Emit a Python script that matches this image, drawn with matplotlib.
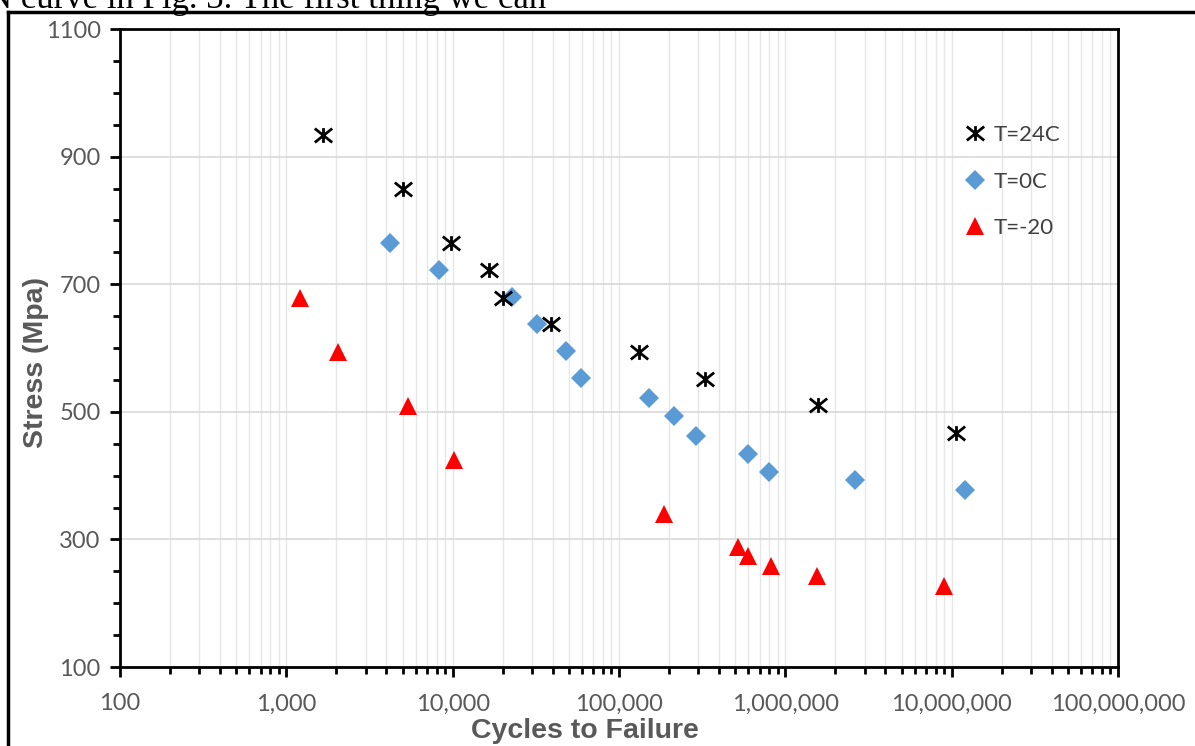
import numpy as np
import matplotlib
matplotlib.use('Agg')
import matplotlib.pyplot as plt
from matplotlib.path import Path
from matplotlib.lines import Line2D
from matplotlib.ticker import FuncFormatter, LogLocator, MultipleLocator

# --- data ---
n_24 = [1660, 5040, 9770, 16600, 20100, 39100, 132000, 330000, 1574000, 10640000]
s_24 = [934, 849, 765, 722, 678, 638, 594, 551, 511, 467]

n_0 = [4210, 8280, 22760, 32200, 48100, 59200, 151700, 214000, 291000,
       597000, 800000, 2630000, 12050000]
s_0 = [765, 722, 680, 638, 595, 553, 522, 493, 462, 434, 406, 393, 377]

n_m20 = [1208, 2046, 5400, 10190, 186700, 520000, 597000, 822000, 1553000, 9020000]
s_m20 = [678, 594, 509, 424, 340, 288, 274, 258, 243, 227]

labels = ['T=24C', 'T=0C', 'T=-20']

# excel style star marker: X plus vertical bar
star = Path([(0, -0.85), (0, 0.85), (-1, -0.8), (1, 0.8), (-1, 0.8), (1, -0.8)],
            [Path.MOVETO, Path.LINETO, Path.MOVETO, Path.LINETO, Path.MOVETO, Path.LINETO])

fig = plt.figure(figsize=(11.95, 7.46), dpi=100)
ax = fig.add_axes([120/1195, 1 - 667/746, 998/1195, 638/746])

ax.plot(n_24, s_24, linestyle='none', marker=star, markersize=12.5, markerfacecolor='none',
        markeredgecolor='black', markeredgewidth=2, label=labels[0], zorder=4)
ax.plot(n_0, s_0, linestyle='none', marker='D', markersize=10, color='#5B9BD5',
        markeredgewidth=0, label=labels[1], zorder=3)
ax.plot(n_m20, s_m20, linestyle='none', marker='^', markersize=13, color='#FF0000',
        markeredgewidth=0, label=labels[2], zorder=3)

ax.set_xscale('log')
ax.set_xlim(100, 1e8)
ax.set_ylim(100, 1100)

ax.yaxis.set_major_locator(MultipleLocator(200, offset=100))
ax.yaxis.set_minor_locator(MultipleLocator(50))
ax.xaxis.set_major_locator(LogLocator(base=10, numticks=10))
ax.xaxis.set_minor_locator(LogLocator(base=10, subs=np.arange(2, 10), numticks=10))
ax.xaxis.set_major_formatter(FuncFormatter(lambda v, p: f'{int(round(v)):,}'))

ax.grid(True, which='both', axis='x', color='#E6E6E6', linewidth=1)
ax.grid(True, which='major', axis='y', color='#D9D9D9', linewidth=1.2)
ax.set_axisbelow(True)

for sp in ax.spines.values():
    sp.set_linewidth(2)
    sp.set_color('black')

ax.tick_params(which='major', direction='out', length=7, width=2, colors='black',
               labelcolor='#595959', labelsize=17, pad=7)
ax.tick_params(which='minor', direction='out', length=5, width=2, colors='black')
ax.tick_params(axis='x', which='major', pad=12)
for t in ax.get_xticklabels() + ax.get_yticklabels():
    t.set_family('Lato')

ax.set_xlabel('Cycles to Failure', fontsize=20.5, fontweight='bold', color='#595959',
              family='Liberation Sans')
ax.set_ylabel('Stress (Mpa)', fontsize=20.5, fontweight='bold', color='#595959',
              family='Liberation Sans')
ax.xaxis.set_label_coords(0.466, -0.08)
ax.yaxis.set_label_coords(-0.071, 0.478)

leg = ax.legend(loc='upper left', bbox_to_anchor=(0.826, 0.881), frameon=False,
                labelspacing=1.2, handlelength=1.0, handletextpad=0.3,
                prop={'family': 'Lato', 'size': 16})
for t in leg.get_texts():
    t.set_color('#404040')

# page frame and the clipped line of text above it
fig.add_artist(Line2D([8/1195, 8/1195], [0, 1 - 12/746], color='black', lw=2.5,
                      transform=fig.transFigure))
fig.add_artist(Line2D([8/1195, 1], [1 - 12/746, 1 - 12/746], color='black', lw=2.5,
                      transform=fig.transFigure))
fig.text(-13/1195, 1 - 8/746, 'N curve in Fig. 3. The first thing we can', family='Liberation Serif',
         fontsize=25, color='black', va='baseline', ha='left')

fig.savefig('out.png', dpi=100)
